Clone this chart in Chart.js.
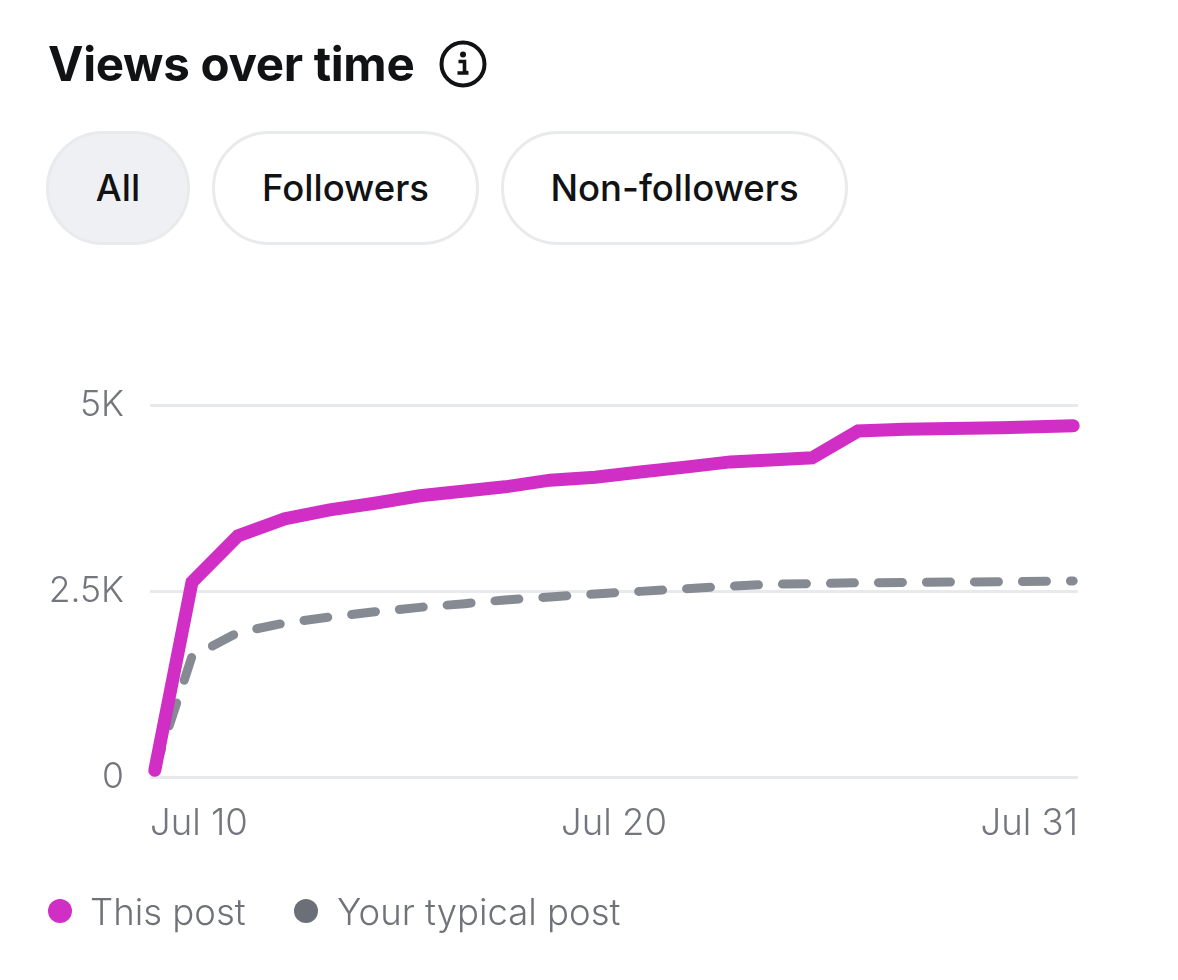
<!DOCTYPE html>
<html>
<head>
<meta charset="utf-8">
<title>Views over time</title>
<script src="https://cdn.jsdelivr.net/npm/chart.js@4"></script>
<style>
    html, body { margin: 0; padding: 0; background: #fff; }
    body { width: 1178px; height: 980px; position: relative; overflow: hidden; font-family: Inter, "Noto Sans", sans-serif; }
    #chart { position: absolute; left: 0; top: 0; }
    h1 { position: absolute; left: 48px; top: 36px; margin: 0; font-size: 47.5px; line-height: 56px; font-weight: 700; color: #101214; white-space: nowrap; letter-spacing: -0.3px; }
    #info { position: absolute; left: 439px; top: 40px; }
    .pill { position: absolute; top: 131px; height: 114px; box-sizing: border-box; border: 3px solid #e9eaec; border-radius: 57px; background: #fff;
            font-size: 36.5px; font-weight: 500; color: #101214; display: flex; align-items: center; justify-content: center; }
    .pill.on { background: #eff0f3; }
    .legend { position: absolute; top: 889px; font-size: 36.5px; line-height: 46px; color: #6f7278; font-weight: 300; white-space: nowrap; }
    .dot { position: absolute; top: 899px; width: 24px; height: 24px; border-radius: 50%; }
</style>
</head>
<body>
<canvas id="chart" width="1178" height="980"></canvas>
<h1>Views over time</h1>
<svg id="info" width="48" height="48" viewBox="0 0 48 48">
    <circle cx="24" cy="24" r="21.5" fill="none" stroke="#101214" stroke-width="4"/>
    <circle cx="24" cy="14.5" r="3" fill="#101214"/>
    <path d="M19.5 21.5h6v11h3.5M18.5 33h11" fill="none" stroke="#101214" stroke-width="3.6"/>
</svg>
<div class="pill on" style="left:46px;width:144px">All</div>
<div class="pill" style="left:212px;width:267px">Followers</div>
<div class="pill" style="left:501px;width:347px">Non-followers</div>
<span class="dot" style="left:48px;background:#d02ec4"></span>
<span class="legend" style="left:90px">This post</span>
<span class="dot" style="left:294px;background:#6b7078"></span>
<span class="legend" style="left:337px">Your typical post</span>

<script>
// days since the first point
const days = [0, 0.85, 1.9, 2.97, 4, 5.03, 6.06, 7.09, 8.01, 9.04, 10.07, 11.1, 12.13, 13.16, 14.08, 15.03, 16.08, 17.15, 18.2, 19.35, 21];
const thisPost = [90, 2620, 3240, 3470, 3590, 3680, 3780, 3845, 3900, 3990, 4030, 4100, 4165, 4235, 4260, 4290, 4650, 4675, 4685, 4695, 4720];
const typicalPost = [100, 1620, 1940, 2070, 2150, 2220, 2280, 2330, 2380, 2420, 2460, 2495, 2530, 2565, 2590, 2600, 2610, 2615, 2620, 2625, 2635];

const xMin = -0.11;
const xMax = 21.11;
const xTickValues = [xMin, 10.5, xMax];
const xTickLabels = ["Jul 10", "Jul 20", "Jul 31"];
const yTickValues = [0, 2500, 5000];
const yTickLabels = ["0", "2.5K", "5K"];

const toPoints = vals => vals.map((v, i) => ({ x: days[i], y: v }));

new Chart(document.getElementById("chart"), {
    type: "line",
    data: {
        datasets: [
            {
                label: "This post",
                data: toPoints(thisPost),
                borderColor: "#d02ec4",
                borderWidth: 13,
                borderCapStyle: "round",
                pointRadius: 0,
                tension: 0,
                order: 1
            },
            {
                label: "Your typical post",
                data: toPoints(typicalPost),
                borderColor: "#868b93",
                borderWidth: 9,
                borderDash: [24, 24],
                borderDashOffset: 2,
                borderCapStyle: "round",
                pointRadius: 0,
                tension: 0,
                order: 2
            }
        ]
    },
    options: {
        responsive: false,
        animation: false,
        clip: false,
        layout: { padding: { top: 405, right: 100 } },
        plugins: { legend: { display: false }, tooltip: { enabled: false } },
        scales: {
            x: {
                type: "linear",
                min: xMin,
                max: xMax,
                afterFit: s => { s.height = 203; },
                afterBuildTicks: s => { s.ticks = xTickValues.map(v => ({ value: v })); },
                grid: { display: false },
                border: { display: false },
                ticks: {
                    color: "#73767c",
                    font: { family: "Inter", size: 36.5, weight: "300" },
                    padding: 17,
                    align: "inner",
                    maxRotation: 0,
                    callback: v => xTickLabels[xTickValues.indexOf(v)]
                }
            },
            y: {
                min: 0,
                max: 5000,
                afterFit: s => { s.width = 150; },
                afterBuildTicks: s => { s.ticks = yTickValues.map(v => ({ value: v })); },
                grid: { color: "#e8e9ec", lineWidth: 3, drawTicks: false },
                border: { display: false },
                ticks: {
                    color: "#73767c",
                    font: { family: "Inter", size: 35.5, weight: "300" },
                    padding: 26,
                    callback: v => yTickLabels[yTickValues.indexOf(v)]
                }
            }
        }
    }
});
</script>
</body>
</html>
